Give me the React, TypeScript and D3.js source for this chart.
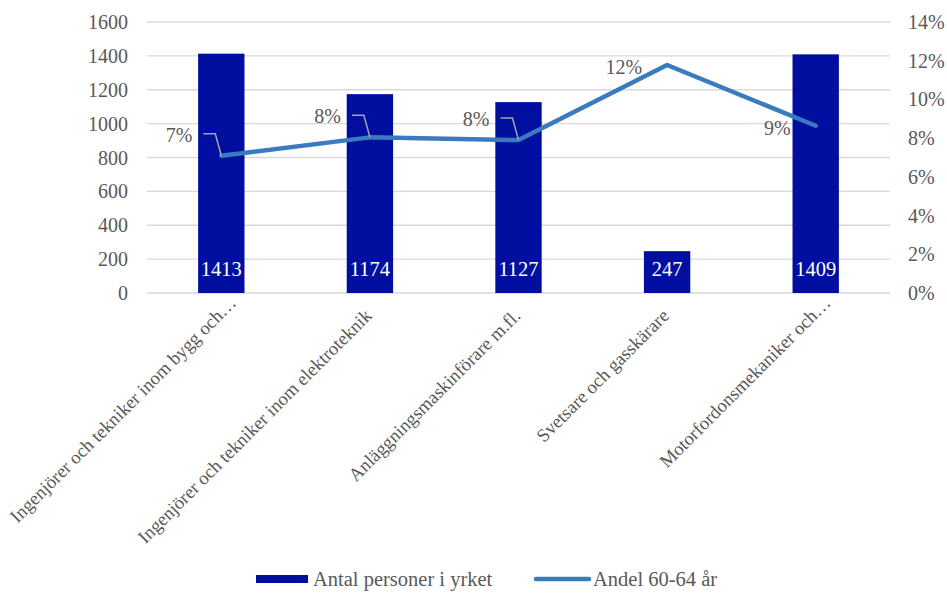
import React from "react";
import * as d3 from "d3";

const categories = [
  "Ingenjörer och tekniker inom bygg och…",
  "Ingenjörer och tekniker inom elektroteknik",
  "Anläggningsmaskinförare m.fl.",
  "Svetsare och gasskärare",
  "Motorfordonsmekaniker och…",
];
const antal = [1413, 1174, 1127, 247, 1409];
const andel = [0.0709, 0.0804, 0.079, 0.1178, 0.0864];
const andelLabels = ["7%", "8%", "8%", "12%", "9%"];
const leftTicks = [0, 200, 400, 600, 800, 1000, 1200, 1400, 1600];
const rightTicks = [0, 0.02, 0.04, 0.06, 0.08, 0.1, 0.12, 0.14];
const seriesNames = ["Antal personer i yrket", "Andel 60-64 år"];

const W = 947;
const H = 594;
const FONT = "'Liberation Serif', 'Times New Roman', serif";
const BAR = "#000f9f";
const LINE = "#3a7bbf";
const TXT = "#595959";
const GRID = "#d9d9d9";

export default function App() {
  const x = d3.scaleBand<string>().domain(categories).range([147, 890]).padding(0);
  const yL = d3.scaleLinear().domain([0, 1600]).range([293, 22]);
  const yR = d3.scaleLinear().domain([0, 0.14]).range([293, 22]);
  const cx = (c: string) => (x(c) as number) + x.bandwidth() / 2;
  const barW = x.bandwidth() * 0.312;
  const pts: [number, number][] = categories.map((c, i) => [cx(c), yR(andel[i])]);
  const lineGen = d3.line();

  return (
    <div style={{ position: "absolute", left: 0, top: 0 }}>
      <svg width={W} height={H} style={{ display: "block", background: "#fff" }} fontFamily={FONT}>
        {leftTicks.map((t) => (
          <line key={"g" + t} x1={147} x2={890} y1={yL(t)} y2={yL(t)} stroke={GRID} strokeWidth={1.3} />
        ))}
        {leftTicks.map((t) => (
          <text key={"l" + t} x={128} y={yL(t)} dy="0.35em" textAnchor="end" fontSize={20} fill={TXT}>
            {t}
          </text>
        ))}
        {rightTicks.map((t) => (
          <text key={"r" + t} x={908} y={yR(t)} dy="0.35em" textAnchor="start" fontSize={20} fill={TXT}>
            {d3.format(".0%")(t)}
          </text>
        ))}
        {categories.map((c, i) => (
          <rect key={"b" + i} x={cx(c) - barW / 2} y={yL(antal[i])} width={barW} height={yL(0) - yL(antal[i])} fill={BAR} />
        ))}
        {categories.map((c, i) => (
          <text key={"bl" + i} x={cx(c)} y={yL(0) - 24} dy="0.35em" textAnchor="middle" fontSize={20.5} fill="#ffffff">
            {antal[i]}
          </text>
        ))}
        <path d={lineGen(pts) || ""} fill="none" stroke={LINE} strokeWidth={4.5} strokeLinecap="round" strokeLinejoin="round" />
        {pts.map(([px, py], i) =>
          i < 3 ? (
            <g key={"pl" + i}>
              <polyline
                points={`${px - 18},${py - 22} ${px - 6},${py - 22} ${px},${py}`}
                fill="none"
                stroke="#a6a6a6"
                strokeWidth={1.5}
              />
              <text x={px - 29} y={py - 21} dy="0.35em" textAnchor="end" fontSize={20} fill={TXT}>
                {andelLabels[i]}
              </text>
            </g>
          ) : (
            <text key={"pl" + i} x={px - 25} y={py + 2} dy="0.35em" textAnchor="end" fontSize={20} fill={TXT}>
              {andelLabels[i]}
            </text>
          )
        )}
        {categories.map((c, i) => {
          const trunc = c.endsWith("…");
          const ax = cx(c) + (trunc ? 16 : 3);
          const ay = trunc ? 304 : 317;
          return (
            <text key={"c" + i} transform={`translate(${ax},${ay}) rotate(-45)`} textAnchor="end" fontSize={18.7} fill={TXT}>
              {c}
            </text>
          );
        })}
        <g>
          <rect x={256} y={575} width={52} height={8} fill={BAR} />
          <text x={313} y={579} dy="0.35em" fontSize={20.5} fill={TXT}>
            {seriesNames[0]}
          </text>
          <line x1={536} x2={589} y1={579} y2={579} stroke={LINE} strokeWidth={4.5} strokeLinecap="round" />
          <text x={593} y={579} dy="0.35em" fontSize={20.5} fill={TXT}>
            {seriesNames[1]}
          </text>
        </g>
      </svg>
    </div>
  );
}
